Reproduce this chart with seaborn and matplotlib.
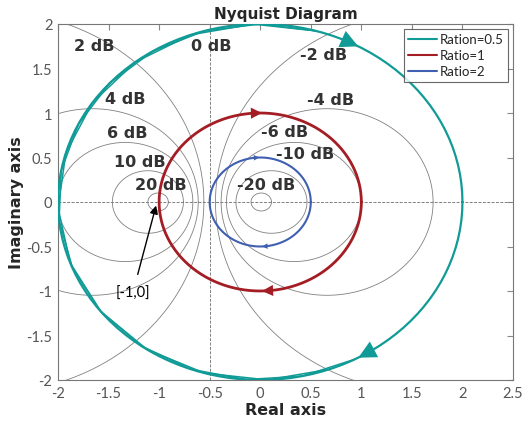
import numpy as np
import pandas as pd
import matplotlib
matplotlib.use("Agg")
import matplotlib.pyplot as plt
import seaborn as sns

# ---- data ----
ratios = [0.5, 1, 2]
series_labels = ["Ration=0.5", "Ratio=1", "Ratio=2"]
series_colors = ["#109b97", "#a51d24", "#3f5fb0"]
series_widths = [1.6, 2.0, 1.5]
# phase samples (degrees) of e^{-j*phase}/ratio ; teal has extra coarse passes on its left side
fine_phase = np.arange(0, 361, 3)
coarse_phase_a = np.arange(62, 296, 16)
coarse_phase_b = np.arange(70, 296, 18)
# arrow positions (phase degrees) on each curve
arrow_phase = {0.5: [-65, 57], 1: [-93, 85], 2: [-95, 84]}
arrow_scale = {0.5: 32, 1: 20, 2: 10}

m_levels_db = [20, 10, 6, 4, 2, -2, -4, -6, -10, -20]
m_label_text = ["2 dB", "0 dB", "-2 dB", "4 dB", "-4 dB", "6 dB", "-6 dB",
                "10 dB", "-10 dB", "20 dB", "-20 dB"]
m_label_x = [-1.64, -0.48, 0.63, -1.33, 0.70, -1.32, 0.24, -1.19, 0.44, -0.98, 0.06]
m_label_y = [1.76, 1.76, 1.66, 1.16, 1.15, 0.78, 0.79, 0.46, 0.54, 0.20, 0.20]

x_ticks = [-2, -1.5, -1, -0.5, 0, 0.5, 1, 1.5, 2, 2.5]
y_ticks = [-2, -1.5, -1, -0.5, 0, 0.5, 1, 1.5, 2]

# ---- figure ----
sns.set_style("white")
plt.rcParams['font.family'] = ['DejaVu Sans']
fig = plt.figure(figsize=(5.23, 4.27), dpi=100)
ax = fig.add_axes([58/523, 1-381/427, 455/523, 356/427])

grid_col = "#808080"
# M-circles
t = np.linspace(0, 2*np.pi, 400)
for db in m_levels_db:
    M = 10**(db/20)
    c = -M**2/(M**2-1)
    r = abs(M/(M**2-1))
    ax.plot(c + r*np.cos(t), r*np.sin(t), color=grid_col, lw=0.6, zorder=1)
ax.axvline(-0.5, color=grid_col, lw=0.7, ls=(0, (3, 1.5)), zorder=1)
ax.axhline(0, color=grid_col, lw=0.7, ls=(0, (3, 1.5)), zorder=1)

for lab, x, y in zip(m_label_text, m_label_x, m_label_y):
    ax.text(x, y, lab, ha="center", va="center", fontsize=11.5,
            fontweight="bold", color="#333333", zorder=2)

# Nyquist curves
def curve(ratio, phase_deg):
    g = np.exp(-1j*np.deg2rad(phase_deg))/ratio
    return pd.DataFrame({"re": g.real, "im": g.imag})

for ratio, lab, col, lw in zip(ratios, series_labels, series_colors, series_widths):
    d = curve(ratio, fine_phase)
    sns.lineplot(data=d, x="re", y="im", sort=False, estimator=None,
                 color=col, lw=lw, label=lab, ax=ax, zorder=3)
    if ratio == 0.5:
        for ph in (coarse_phase_a, coarse_phase_b):
            d2 = curve(ratio, ph)
            sns.lineplot(data=d2, x="re", y="im", sort=False, estimator=None,
                         color=col, lw=1.1, ax=ax, zorder=3, legend=False)
    for ph in arrow_phase[ratio]:
        p0 = np.exp(-1j*np.deg2rad(ph))/ratio
        p1 = np.exp(-1j*np.deg2rad(ph+4))/ratio
        ax.annotate("", xy=(p1.real, p1.imag), xytext=(p0.real, p0.imag),
                    arrowprops=dict(arrowstyle="-|>", color=col, lw=0,
                                    mutation_scale=arrow_scale[ratio],
                                    shrinkA=0, shrinkB=0), zorder=4)

# [-1,0] annotation
ax.annotate("[-1,0]", xy=(-1.03, -0.04), xytext=(-1.26, -1.02),
            ha="center", va="center", fontsize=10.5, color="black",
            fontfamily="Lato",
            arrowprops=dict(arrowstyle="-|>", color="black", lw=1.0,
                            mutation_scale=12, shrinkA=6, shrinkB=0), zorder=5)

ax.set_xlim(-2, 2.5)
ax.set_ylim(-2, 2)
ax.set_xticks(x_ticks)
ax.set_xticklabels([f"{v:g}" for v in x_ticks])
ax.set_yticks(y_ticks)
ax.set_yticklabels([f"{v:g}" for v in y_ticks])
ax.tick_params(direction="in", length=4, width=0.8, colors="#888888",
               labelcolor="#555555", labelsize=10.5, top=True, right=True,
               pad=4)
for lbl in ax.get_xticklabels() + ax.get_yticklabels():
    lbl.set_fontfamily("Lato")
for s in ax.spines.values():
    s.set_color("#777777")
    s.set_linewidth(0.8)

ax.set_title("Nyquist Diagram", fontsize=11, fontweight="bold", pad=4)
ax.set_xlabel("Real axis", fontsize=11.5, fontweight="bold", labelpad=2)
ax.set_ylabel("Imaginary axis", fontsize=11.5, fontweight="bold", labelpad=2)

leg = ax.legend(loc="upper right", frameon=True, fancybox=False,
                handlelength=2.2, handletextpad=0.2, borderpad=0.35,
                labelspacing=0.3, borderaxespad=0.35, prop={"family": "Lato", "size": 9.5})
leg.get_frame().set_edgecolor("#444444")
leg.get_frame().set_linewidth(0.8)
for line in leg.get_lines():
    line.set_linewidth(1.5)

fig.savefig("out.png", dpi=100)
